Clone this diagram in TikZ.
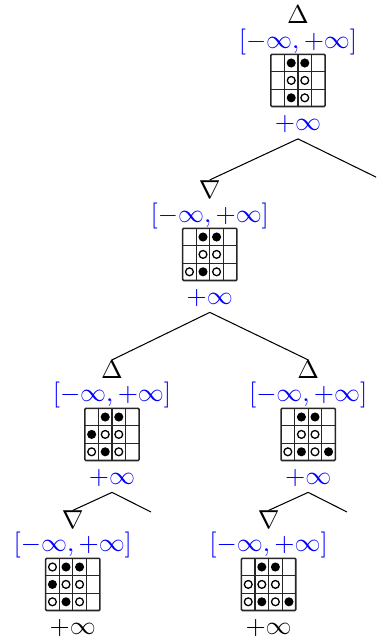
\documentclass[tikz,border=0pt]{standalone}
\tikzset{
  sym/.style={inner sep=0pt},
  intv/.style={inner sep=0pt, text=blue},
  val/.style={inner xsep=0pt, inner ysep=2pt, text=blue},
  leafval/.style={val, text=black},
  board/.style={inner sep=0pt, outer sep=0pt, minimum width=20.9pt, minimum height=20.1pt},
  edge/.style={line width=0.4pt, black},
  bstone/.style={fill=black},
  wstone/.style={draw=black, line width=0.5pt, fill=white},
  gridline/.style={line width=0.45pt, black!85},
}
\newcommand\drawboard[3]{%
  \begin{scope}[shift={(#1.north west)}, x=5.225pt, y=-6.7pt]
    \foreach \i in {1,2,3} {\draw[gridline] (\i,0) -- (\i,3);}
    \foreach \j in {1,2} {\draw[gridline] (0,\j) -- (4,\j);}
    \draw[line width=0.6pt, black!85, rounded corners=0.4pt] (0,0) rectangle (4,3);
    \foreach \c/\r in {#2} {\fill[bstone] (\c+0.5,\r+0.5) circle[radius=1.75pt];}
    \foreach \c/\r in {#3} {\draw[wstone] (\c+0.5,\r+0.5) circle[radius=1.5pt];}
  \end{scope}}
\begin{document}
\begin{tikzpicture}[x=0.385pt, y=-0.385pt]
\useasboundingbox (0,0) rectangle (376,638);
\clip (0,0) rectangle (376,638);
% root
\node[sym]  (r-s) at (298,15) {$\Delta$};
\node[intv] (r-i) at (298,42) {$[-\infty,+\infty]$};
\node[board] (r-g) at (298,80.4) {};
\node[val]  (r-v) at (298,124.5) {$+\infty$};
% level 2
\node[sym]  (a-s) at (209.8,189.3) {$\nabla$};
\node[intv] (a-i) at (209.8,215.6) {$[-\infty,+\infty]$};
\node[board] (a-g) at (209.8,254.4) {};
\node[val]  (a-v) at (209.8,298) {$+\infty$};
% level 3 left
\node[sym]  (b-s) at (112,369.3) {$\Delta$};
\node[intv] (b-i) at (112,395.4) {$[-\infty,+\infty]$};
\node[board] (b-g) at (112,434.4) {};
\node[val]  (b-v) at (112,478) {$+\infty$};
% level 3 right
\node[sym]  (c-s) at (308.2,369.3) {$\Delta$};
\node[intv] (c-i) at (308.2,395.4) {$[-\infty,+\infty]$};
\node[board] (c-g) at (308.2,434.4) {};
\node[val]  (c-v) at (308.2,478) {$+\infty$};
% level 4 left
\node[sym]  (d-s) at (72.8,519.8) {$\nabla$};
\node[intv] (d-i) at (72.8,545.4) {$[-\infty,+\infty]$};
\node[board] (d-g) at (72.8,584.4) {};
\node[leafval] (d-v) at (72.8,628.3) {$+\infty$};
% level 4 right
\node[sym]  (e-s) at (268.6,519.8) {$\nabla$};
\node[intv] (e-i) at (268.6,545.4) {$[-\infty,+\infty]$};
\node[board] (e-g) at (268.6,584.4) {};
\node[leafval] (e-v) at (268.6,628.3) {$+\infty$};
% boards
\drawboard{r-g}{1/0,2/0,1/2}{1/1,2/1,2/2}
\drawboard{a-g}{1/0,2/0,1/2}{1/1,2/1,0/2,2/2}
\drawboard{b-g}{1/0,2/0,0/1,1/2}{1/1,2/1,0/2,2/2}
\drawboard{c-g}{1/0,2/0,1/2,3/2}{1/1,2/1,0/2,2/2}
\drawboard{d-g}{1/0,2/0,0/1,1/2}{0/0,1/1,2/1,0/2,2/2}
\drawboard{e-g}{1/0,2/0,1/2,3/2}{0/1,1/1,2/1,0/2,2/2}
% free ends
\coordinate (r-x) at (386,182);
\coordinate (b-x) at (151,512);
\coordinate (c-x) at (347,512);
% edges
\draw[edge] (r-v.south) -- (a-s.north);
\draw[edge] (r-v.south) -- (r-x);
\draw[edge] (a-v.south) -- (b-s.north);
\draw[edge] (a-v.south) -- (c-s.north);
\draw[edge] (b-v.south) -- (d-s.north);
\draw[edge] (b-v.south) -- (b-x);
\draw[edge] (c-v.south) -- (e-s.north);
\draw[edge] (c-v.south) -- (c-x);
\end{tikzpicture}
\end{document}
